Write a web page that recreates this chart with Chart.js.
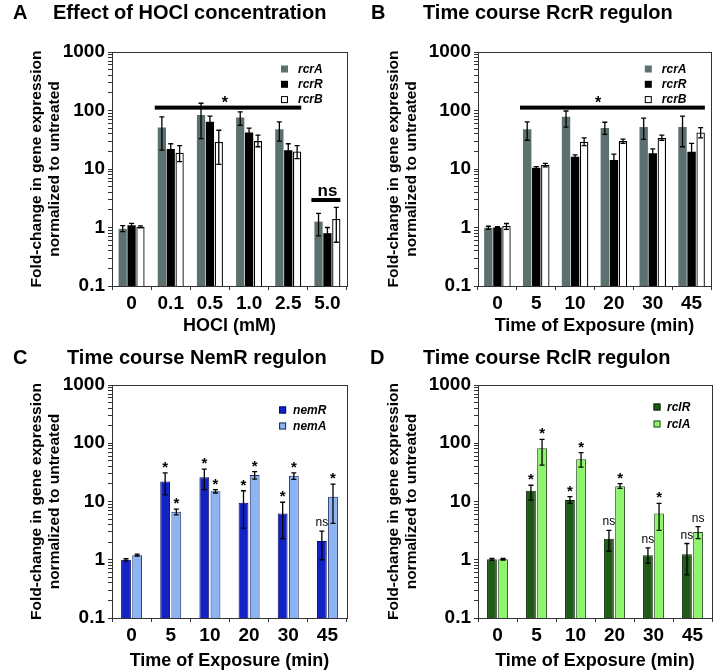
<!DOCTYPE html>
<html>
<head>
<meta charset="utf-8">
<script src="https://cdn.jsdelivr.net/npm/chart.js@4.4.0/dist/chart.umd.min.js"></script>
<style>
body { margin: 0; background: #fff; font-family: "Liberation Sans", Arial, sans-serif; }
#wrap { position: relative; width: 714px; height: 670px; overflow: hidden; }
canvas { position: absolute; }
.lbl { position: absolute; font-weight: bold; font-size: 20px; line-height: 20px; color: #000; white-space: nowrap; }
</style>
</head>
<body>
<div id="wrap">
  <canvas id="panelA" width="357" height="335" style="left:0;top:0"></canvas>
  <canvas id="panelB" width="357" height="335" style="left:357px;top:0"></canvas>
  <canvas id="panelC" width="357" height="335" style="left:0;top:335px"></canvas>
  <canvas id="panelD" width="357" height="335" style="left:357px;top:335px"></canvas>
  <div class="lbl" style="left:13px;top:2px">A</div>
  <div class="lbl" style="left:53px;top:2px">Effect of HOCl concentration</div>
  <div class="lbl" style="left:371px;top:2px">B</div>
  <div class="lbl" style="left:423px;top:2px">Time course RcrR regulon</div>
  <div class="lbl" style="left:13px;top:347px">C</div>
  <div class="lbl" style="left:67px;top:347px">Time course NemR regulon</div>
  <div class="lbl" style="left:370px;top:347px">D</div>
  <div class="lbl" style="left:423px;top:347px">Time course RclR regulon</div>
</div>
<script>
const FONT = '"Liberation Sans", Arial, sans-serif';

const doseLabels = ['0', '0.1', '0.5', '1.0', '2.5', '5.0'];
const timeLabels = ['0', '5', '10', '20', '30', '45'];
const yTickVals = [0.1, 1, 10, 100, 1000];
const yTickLabels = ['0.1', '1', '10', '100', '1000'];

// A - HOCl concentration
const doseRcrA = [0.95, 51, 84, 76, 48, 1.26];
const doseRcrAHi = [1.08, 78, 133, 95, 64, 1.75];
const doseRcrALo = [0.85, 21, 33, 56, 30, 0.72];
const doseRcrR = [1.09, 22, 64, 42, 21, 0.8];
const doseRcrRHi = [1.18, 27, 80, 50, 27, 1.0];
const doseRcrRLo = [1.02, 17, 52, 38, 17, 0.61];
const doseRcrB = [1.03, 19, 29, 30, 20, 1.4];
const doseRcrBHi = [1.07, 25, 46, 38, 25, 2.2];
const doseRcrBLo = [0.99, 13.4, 12, 24, 15, 0.56];

// B - RcrR time course
const timeRcrA = [0.99, 48, 78, 50, 52, 52];
const timeRcrAHi = [1.05, 64, 98, 63, 74, 80];
const timeRcrALo = [0.93, 31, 52, 39, 32, 24];
const timeRcrR = [1.0, 10.5, 16.2, 14.3, 18.5, 19.8];
const timeRcrRHi = [1.03, 11, 17.5, 17.9, 22, 27.5];
const timeRcrRLo = [0.97, 10, 15.4, 11.7, 15.3, 14.3];
const timeRcrB = [1.06, 11.7, 29.3, 30, 34, 42];
const timeRcrBHi = [1.17, 12.5, 34, 32.5, 38, 51];
const timeRcrBLo = [0.93, 10.9, 25, 27.5, 31, 34];

// C - NemR time course
const nemR = [1.0, 22, 26, 9.5, 6.2, 2.1];
const nemRHi = [1.04, 31, 36, 15.3, 9.7, 3.1];
const nemRLo = [0.96, 13, 16, 3.5, 2.3, 1.0];
const nemRSig = ['', '*', '*', '*', '*', 'ns'];
const nemA = [1.2, 6.7, 15, 28.5, 27.7, 12.1];
const nemAHi = [1.25, 7.4, 16, 32.7, 31, 19.8];
const nemALo = [1.16, 5.9, 14, 24.3, 24, 4.2];
const nemASig = ['', '*', '*', '*', '*', '*'];

// D - RclR time course
const rclR = [1.02, 15.3, 10.6, 2.3, 1.2, 1.24];
const rclRHi = [1.06, 19, 12.1, 3.2, 1.6, 1.9];
const rclRLo = [0.98, 10.6, 9.3, 1.4, 0.87, 0.55];
const rclRSig = ['', '*', '*', 'ns', 'ns', 'ns'];
const rclA = [1.02, 82, 53, 18.3, 6.2, 3.0];
const rclAHi = [1.05, 117, 69, 20.3, 9.3, 3.7];
const rclALo = [0.99, 42, 39, 16.8, 3.2, 2.3];
const rclASig = ['', '*', '*', '*', '*', 'ns'];

// minor ticks 1..9 in every decade
const allTicks = [];
for (let d = 0; d < yTickVals.length - 1; d++) {
    for (let k = 1; k < 10; k++) allTicks.push(k * yTickVals[d]);
}
allTicks.push(yTickVals[yTickVals.length - 1]);

function makePanel(id, cfg) {
    const canvas = document.getElementById(id);
    const W = canvas.width, H = canvas.height;

    // box around the plot
    const frame = {
        id: 'frame',
        afterDraw(chart) {
            const a = chart.chartArea, ctx = chart.ctx;
            ctx.save();
            ctx.strokeStyle = '#333';
            ctx.lineWidth = 1;
            ctx.strokeRect(Math.round(a.left) + 0.5, Math.round(a.top) + 0.5,
                Math.round(a.right - a.left), Math.round(a.bottom - a.top));
            ctx.restore();
        }
    };

    // error bars + stars over single bars
    const errorBars = {
        id: 'errorBars',
        afterDatasetsDraw(chart) {
            const ctx = chart.ctx, y = chart.scales.y;
            chart.data.datasets.forEach((ds, i) => {
                const meta = chart.getDatasetMeta(i);
                meta.data.forEach((bar, j) => {
                    const top = y.getPixelForValue(ds.errHi[j]);
                    const bot = y.getPixelForValue(ds.errLo[j]);
                    ctx.save();
                    ctx.strokeStyle = '#000';
                    ctx.lineWidth = 1.3;
                    ctx.beginPath();
                    ctx.moveTo(bar.x, top); ctx.lineTo(bar.x, bot);
                    ctx.moveTo(bar.x - 2.5, top); ctx.lineTo(bar.x + 2.5, top);
                    ctx.moveTo(bar.x - 2.5, bot); ctx.lineTo(bar.x + 2.5, bot);
                    ctx.stroke();
                    if (ds.sig && ds.sig[j]) {
                        const t = ds.sig[j];
                        ctx.fillStyle = '#000';
                        ctx.textAlign = 'center';
                        ctx.textBaseline = 'alphabetic';
                        if (t === '*') {
                            ctx.font = 'bold 15px ' + FONT;
                            ctx.fillText(t, bar.x, top - 1);
                        } else {
                            ctx.font = '12px ' + FONT;
                            ctx.fillText(t, bar.x, top - 5);
                        }
                    }
                    ctx.restore();
                });
            });
        }
    };

    // significance bars over groups (A, B)
    const sigLines = {
        id: 'sigLines',
        afterDatasetsDraw(chart) {
            const ctx = chart.ctx;
            const m0 = chart.getDatasetMeta(0);
            const mN = chart.getDatasetMeta(chart.data.datasets.length - 1);
            (cfg.lines || []).forEach(l => {
                const b0 = m0.data[l.from], b1 = mN.data[l.to];
                const x0 = b0.x - b0.width / 2 - 3, x1 = b1.x + b1.width / 2;
                const yy = chart.scales.y.getPixelForValue(l.value);
                ctx.save();
                ctx.fillStyle = '#000';
                ctx.fillRect(x0, yy - 2, x1 - x0, 4);
                ctx.textAlign = 'center';
                ctx.textBaseline = 'alphabetic';
                ctx.font = 'bold ' + l.size + 'px ' + FONT;
                ctx.fillText(l.text, chart.scales.x.getPixelForValue(l.at), yy - l.lift);
                ctx.restore();
            });
        }
    };

    // small legend inside the plot, top right
    const boxLegend = {
        id: 'boxLegend',
        afterDraw(chart) {
            const ctx = chart.ctx, a = chart.chartArea, L = cfg.legend;
            ctx.save();
            ctx.font = 'italic bold ' + L.size + 'px ' + FONT;
            ctx.textBaseline = 'middle';
            ctx.textAlign = 'left';
            chart.data.datasets.forEach((ds, i) => {
                const cx = a.right - L.right;
                const cy = a.top + L.top + i * L.step;
                ctx.fillStyle = ds.backgroundColor;
                ctx.fillRect(cx - 3.5, cy - 3.5, 7, 7);
                if (ds.legendEdge) {
                    ctx.strokeStyle = ds.legendEdge;
                    ctx.lineWidth = 1;
                    ctx.strokeRect(cx - 3, cy - 3, 6, 6);
                }
                ctx.fillStyle = '#000';
                ctx.fillText(ds.label, cx + L.gap, cy + 0.5);
            });
            ctx.restore();
        }
    };

    return new Chart(canvas, {
        type: 'bar',
        data: { labels: cfg.labels, datasets: cfg.datasets },
        options: {
            responsive: false,
            animation: false,
            events: [],
            layout: { padding: { top: cfg.area.top, right: W - cfg.area.right, left: 0, bottom: 0 } },
            plugins: { legend: { display: false }, tooltip: { enabled: false } },
            datasets: { bar: { categoryPercentage: cfg.catPct, barPercentage: cfg.barPct } },
            scales: {
                x: {
                    afterFit: s => { s.height = H - cfg.area.bottom; },
                    ticks: { font: { family: FONT, size: 19, weight: 'bold' }, color: '#000', padding: 2, maxRotation: 0, autoSkip: false },
                    grid: { drawOnChartArea: false, tickLength: 4, offset: true, color: '#333' },
                    border: { display: false },
                    title: {
                        display: true, text: cfg.xTitle, color: '#000',
                        font: { family: FONT, size: 18, weight: 'bold', lineHeight: 1 },
                        padding: { top: 0, bottom: 0 }
                    }
                },
                y: {
                    type: 'logarithmic',
                    min: 0.1,
                    max: 1000,
                    afterFit: s => { s.width = cfg.area.left; },
                    afterBuildTicks: s => { s.ticks = allTicks.map(v => ({ value: v })); },
                    ticks: {
                        autoSkip: false,
                        padding: 3,
                        color: '#000',
                        font: { family: FONT, size: 19, weight: 'bold' },
                        callback: v => {
                            const k = yTickVals.findIndex(t => Math.abs(t - v) < 1e-9);
                            return k >= 0 ? yTickLabels[k] : '';
                        }
                    },
                    grid: { drawOnChartArea: false, tickLength: 4, color: '#333' },
                    border: { display: false },
                    title: {
                        display: true,
                        text: ['Fold-change in gene expression', 'normalized to untreated'],
                        color: '#000',
                        font: { family: FONT, size: 15.5, weight: 'bold', lineHeight: 1.16 },
                        padding: { top: 28, bottom: 0 }
                    }
                }
            }
        },
        plugins: [frame, errorBars, sigLines, boxLegend]
    });
}

const rcrAColor = '#5d7070';

makePanel('panelA', {
    labels: doseLabels,
    xTitle: 'HOCl (mM)',
    area: { left: 112, right: 347, top: 52, bottom: 286 },
    catPct: 0.68, barPct: 0.93,
    legend: { right: 62.5, top: 17, step: 15.3, gap: 13.5, size: 12 },
    lines: [
        { from: 1, to: 4, value: 112, text: '*', at: 2.38, size: 16, lift: 0 },
        { from: 5, to: 5, value: 2.95, text: 'ns', at: 5, size: 17, lift: 4 }
    ],
    datasets: [
        { label: 'rcrA', data: doseRcrA, errHi: doseRcrAHi, errLo: doseRcrALo, backgroundColor: rcrAColor, borderWidth: 0 },
        { label: 'rcrR', data: doseRcrR, errHi: doseRcrRHi, errLo: doseRcrRLo, backgroundColor: '#000', borderWidth: 0 },
        { label: 'rcrB', data: doseRcrB, errHi: doseRcrBHi, errLo: doseRcrBLo, backgroundColor: '#fff', borderColor: '#000', borderWidth: 1.3, legendEdge: '#000' }
    ]
});

makePanel('panelB', {
    labels: timeLabels,
    xTitle: 'Time of Exposure (min)',
    area: { left: 121, right: 354, top: 52, bottom: 286 },
    catPct: 0.7, barPct: 0.93,
    legend: { right: 62.7, top: 17, step: 15.3, gap: 13.5, size: 12 },
    lines: [
        { from: 1, to: 5, value: 112, text: '*', at: 2.59, size: 16, lift: 0 }
    ],
    datasets: [
        { label: 'rcrA', data: timeRcrA, errHi: timeRcrAHi, errLo: timeRcrALo, backgroundColor: rcrAColor, borderWidth: 0 },
        { label: 'rcrR', data: timeRcrR, errHi: timeRcrRHi, errLo: timeRcrRLo, backgroundColor: '#000', borderWidth: 0 },
        { label: 'rcrB', data: timeRcrB, errHi: timeRcrBHi, errLo: timeRcrBLo, backgroundColor: '#fff', borderColor: '#000', borderWidth: 1.3, legendEdge: '#000' }
    ]
});

makePanel('panelC', {
    labels: timeLabels,
    xTitle: 'Time of Exposure (min)',
    area: { left: 112, right: 347, top: 50, bottom: 283 },
    catPct: 0.57, barPct: 0.88,
    legend: { right: 64.4, top: 25, step: 16, gap: 10.5, size: 12 },
    datasets: [
        { label: 'nemR', data: nemR, errHi: nemRHi, errLo: nemRLo, sig: nemRSig, backgroundColor: '#1222c4', borderColor: '#000870', borderWidth: 1, legendEdge: '#000870' },
        { label: 'nemA', data: nemA, errHi: nemAHi, errLo: nemALo, sig: nemASig, backgroundColor: '#8db4f2', borderColor: '#1a2a60', borderWidth: 1, legendEdge: '#1a2a60' }
    ]
});

makePanel('panelD', {
    labels: timeLabels,
    xTitle: 'Time of Exposure (min)',
    area: { left: 121, right: 355, top: 50, bottom: 283 },
    catPct: 0.57, barPct: 0.88,
    legend: { right: 55, top: 22, step: 17, gap: 10, size: 12 },
    datasets: [
        { label: 'rclR', data: rclR, errHi: rclRHi, errLo: rclRLo, sig: rclRSig, backgroundColor: '#1f5a17', borderColor: '#0b2a08', borderWidth: 1, legendEdge: '#0b2a08' },
        { label: 'rclA', data: rclA, errHi: rclAHi, errLo: rclALo, sig: rclASig, backgroundColor: '#8ef46c', borderColor: '#264f1c', borderWidth: 1, legendEdge: '#264f1c' }
    ]
});
</script>
</body>
</html>
